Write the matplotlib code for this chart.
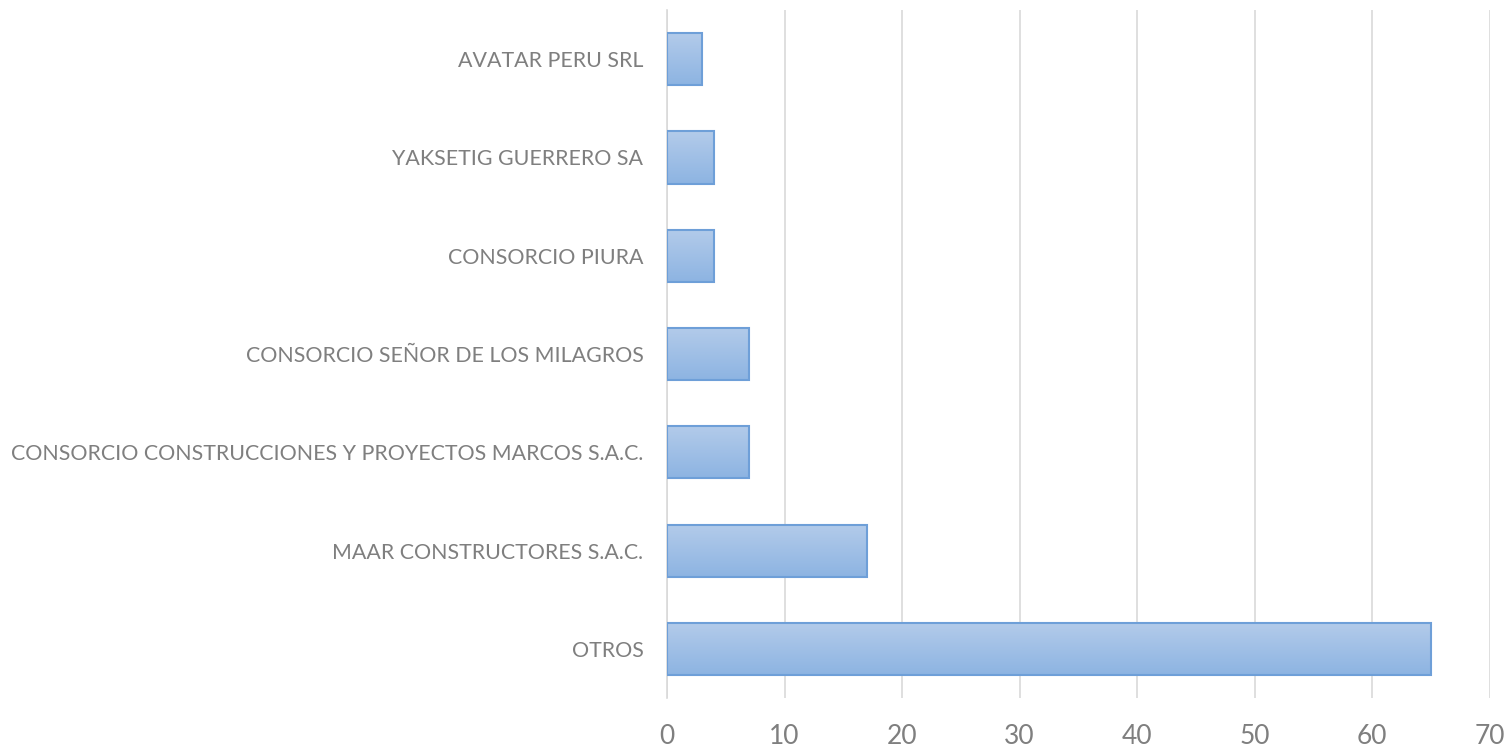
import numpy as np
import matplotlib.pyplot as plt
from matplotlib.colors import LinearSegmentedColormap

plt.rcParams['font.family'] = ['Lato', 'DejaVu Sans']

empresas = ['OTROS', 'MAAR CONSTRUCTORES S.A.C.',
            'CONSORCIO CONSTRUCCIONES Y PROYECTOS MARCOS S.A.C.',
            'CONSORCIO SEÑOR DE LOS MILAGROS', 'CONSORCIO PIURA',
            'YAKSETIG GUERRERO SA', 'AVATAR PERU SRL']
valores = [65, 17, 7, 7, 4, 4, 3]

fig = plt.figure(figsize=(15.08, 7.51), dpi=100)
ax = fig.add_axes([0.4423, 0.0706, 0.5457, 0.916])

# gradient fill, light at top, darker at bottom
cmap = LinearSegmentedColormap.from_list('g', ['#8db4e2', '#b3cbea'])
grad = np.linspace(0, 1, 100).reshape(-1, 1)
h = 0.53
ypos = np.arange(len(empresas))
for y, v in zip(ypos, valores):
    ax.imshow(grad, cmap=cmap, aspect='auto', origin='lower',
              extent=[0, v, y - h/2, y + h/2], zorder=2)
ax.barh(ypos, valores, height=h, facecolor='none', edgecolor='#6e9fd8',
        linewidth=1.5, zorder=3)

ax.set_xlim(0, 70)
ax.set_ylim(-0.5, len(empresas) - 0.5)
ax.set_xticks(range(0, 71, 10))
ax.set_yticks(ypos)
ax.set_yticklabels(empresas, fontsize=15.4, color='#7f7f7f')
ax.tick_params(axis='x', labelsize=19, labelcolor='#7f7f7f', length=0, pad=19)
ax.tick_params(axis='y', length=0, pad=17)
ax.grid(axis='x', color='#d9d9d9', linewidth=1.2, zorder=0)
ax.set_axisbelow(True)
for s in ['top', 'right', 'bottom']:
    ax.spines[s].set_visible(False)
ax.spines['left'].set_color('#d9d9d9')
ax.spines['left'].set_linewidth(1.2)

fig.savefig('out.png', dpi=100)
